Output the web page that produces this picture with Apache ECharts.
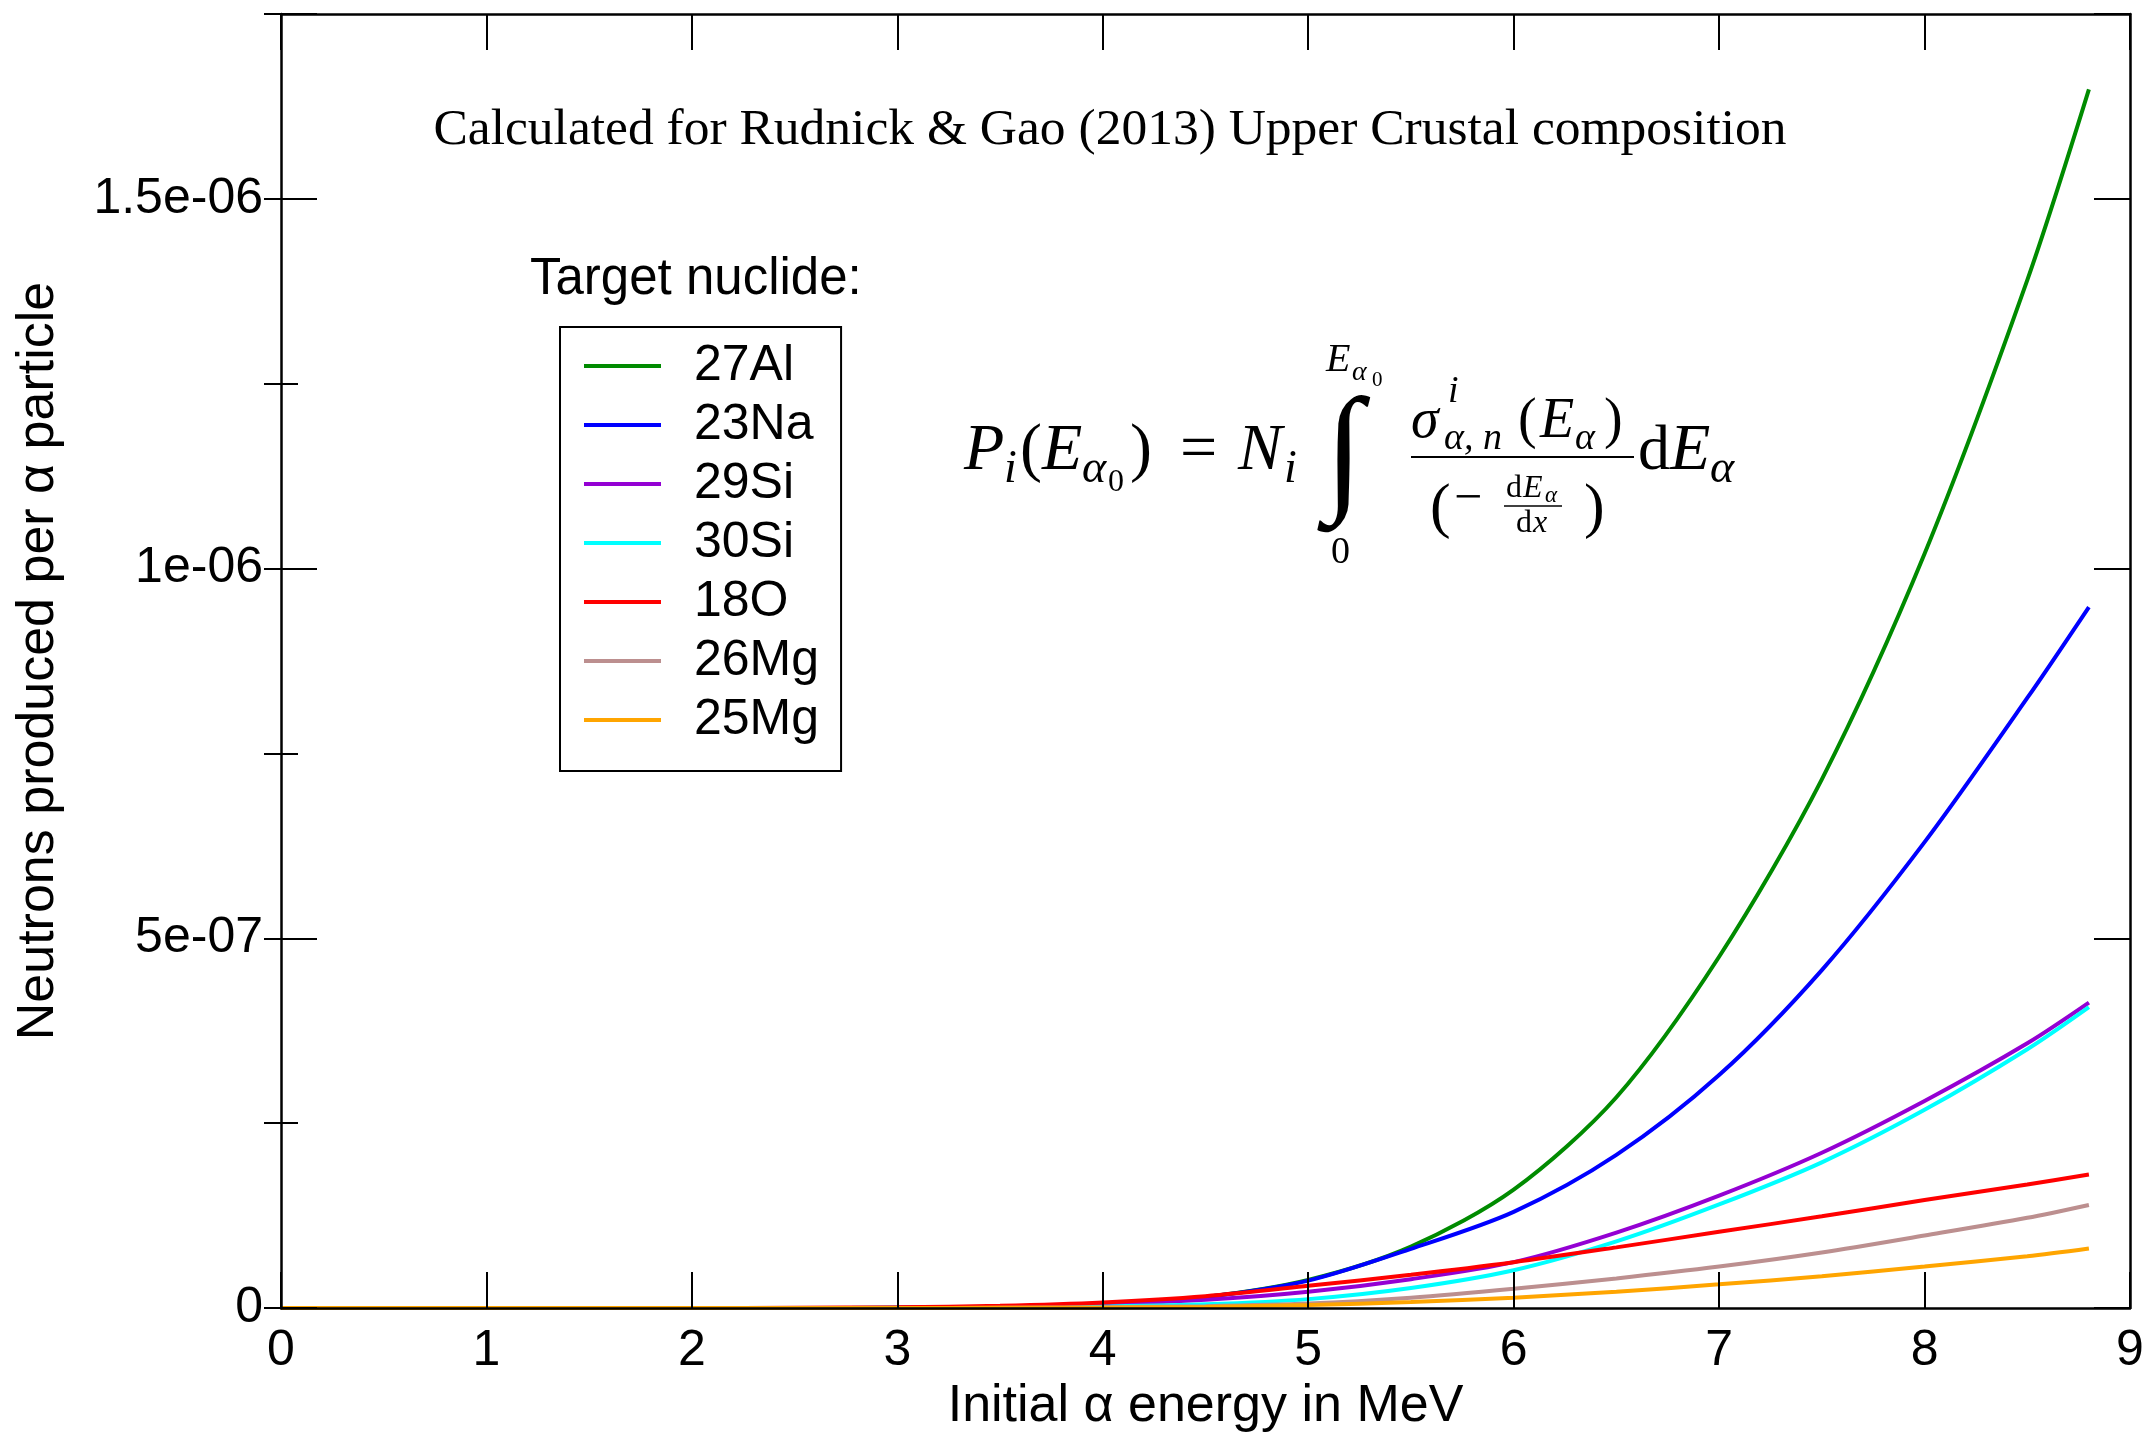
<!DOCTYPE html>
<html>
<head>
<meta charset="utf-8">
<script src="https://cdn.jsdelivr.net/npm/echarts@6/dist/echarts.min.js"></script>
<style>
  html, body { margin: 0; padding: 0; background: #fff; }
  #chart { width: 2148px; height: 1433px; }
</style>
</head>
<body>
<div id="chart"></div>
<script>
// initial alpha energy (MeV)
const energy = [0, 0.5, 1, 1.5, 2, 2.5, 3, 3.5, 4, 4.5, 5, 5.5, 6, 6.5, 7, 7.5, 8, 8.5, 8.8];

// neutrons produced per alpha particle
const al27 = [0, 0, 0, 0, 0, 0, 0.5e-9, 1.5e-9, 5e-9, 1.5e-8, 3.8e-8, 8.3e-8, 1.6e-7, 2.85e-7, 4.75e-7, 7.15e-7, 1.02e-6, 1.39e-6, 1.648e-6];
const na23 = [0, 0, 0, 0, 0, 0, 0.5e-9, 1.5e-9, 5e-9, 1.5e-8, 3.7e-8, 8.0e-8, 1.3e-7, 2.07e-7, 3.15e-7, 4.57e-7, 6.3e-7, 8.25e-7, 9.48e-7];
const si29 = [0, 0, 0, 0, 0, 0, 0.3e-9, 1.5e-9, 5e-9, 1.1e-8, 2.2e-8, 3.9e-8, 6.2e-8, 1.02e-7, 1.52e-7, 2.1e-7, 2.8e-7, 3.58e-7, 4.13e-7];
const si30 = [0, 0, 0, 0, 0, 0, 0, 0.5e-9, 2e-9, 5e-9, 1.2e-8, 2.7e-8, 5.1e-8, 9.0e-8, 1.4e-7, 1.97e-7, 2.68e-7, 3.5e-7, 4.07e-7];
const o18 = [0, 0, 0, 0, 0, 0.3e-9, 1e-9, 3e-9, 7.5e-9, 1.6e-8, 3.0e-8, 4.5e-8, 6.2e-8, 8.2e-8, 1.03e-7, 1.24e-7, 1.46e-7, 1.67e-7, 1.806e-7];
const mg26 = [0, 0, 0, 0, 0, 0, 0, 0.3e-9, 1e-9, 2.5e-9, 6e-9, 1.4e-8, 2.6e-8, 4.0e-8, 5.6e-8, 7.5e-8, 9.8e-8, 1.22e-7, 1.394e-7];
const mg25 = [0, 0, 0, 0, 0, 0, 0, 0.2e-9, 0.5e-9, 1.5e-9, 4e-9, 8e-9, 1.4e-8, 2.2e-8, 3.2e-8, 4.3e-8, 5.6e-8, 7.0e-8, 8.06e-8];

const nuclides = ['27Al', '23Na', '29Si', '30Si', '18O', '26Mg', '25Mg'];
const values = [al27, na23, si29, si30, o18, mg26, mg25];
const colors = ['#008b00', '#0000ff', '#9400d3', '#00ffff', '#ff0000', '#bc8f8f', '#ffa500'];

const yTickValues = [0, 5e-7, 1e-6, 1.5e-6];
const yTickLabels = ['0', '5e-07', '1e-06', '1.5e-06'];

const sans = 'Liberation Sans, Arial, Helvetica, sans-serif';
const serif = 'Liberation Serif, Times New Roman, serif';

const chart = echarts.init(document.getElementById('chart'));

const frame = { show: true, onZero: false, lineStyle: { color: '#000', width: 2.5 } };
const majorTick = { show: true, inside: true, length: 36, lineStyle: { color: '#000', width: 2 } };
const minorTick = { show: true, inside: true, length: 17, lineStyle: { color: '#000', width: 2 } };

// one piece of the formula: text, left x, baseline y, size, italic
function m(text, x, base, size, italic) {
  return {
    type: 'text', z: 50,
    x: x, y: base - 0.33 * size,
    style: {
      text: text, fill: '#000',
      fontSize: size, fontFamily: serif,
      fontStyle: italic ? 'italic' : 'normal',
      verticalAlign: 'middle', textVerticalAlign: 'middle'
    }
  };
}
function bar(x1, x2, y, w) {
  return { type: 'line', z: 50, shape: { x1: x1, y1: y, x2: x2, y2: y }, style: { stroke: '#000', lineWidth: w } };
}

const formula = [
  m('P', 964, 473, 66, true),
  m('i', 1004, 485, 46, true),
  m('(', 1020, 473, 66, false),
  m('E', 1042, 473, 66, true),
  m('α', 1082, 485, 46, true),
  m('0', 1108, 493, 32, false),
  m(')', 1130, 473, 66, false),
  m('=', 1180, 473, 66, false),
  m('N', 1238, 473, 66, true),
  m('i', 1284, 485, 46, true),
  {
    type: 'text', z: 50, x: 1344, y: 458,
    style: { text: '∫', fill: '#000', fontSize: 140, fontFamily: serif, fontStyle: 'italic',
      align: 'center', textAlign: 'center', verticalAlign: 'middle', textVerticalAlign: 'middle' }
  },
  m('E', 1326, 374, 40, true),
  m('α', 1352, 382, 28, true),
  m('0', 1372, 387, 21, false),
  m('0', 1331, 566, 38, false),
  // numerator
  m('σ', 1411, 441, 56, true),
  m('i', 1448, 405, 38, true),
  m('α, n', 1444, 452, 38, true),
  m('(', 1518, 441, 56, false),
  m('E', 1540, 441, 56, true),
  m('α', 1575, 452, 38, true),
  m(')', 1604, 441, 56, false),
  bar(1411, 1634, 457, 2.2),
  // denominator
  m('(', 1430, 530, 62, false),
  m('−', 1454, 516, 50, false),
  m('d', 1506, 499, 32, false),
  m('E', 1523, 499, 32, true),
  m('α', 1545, 504, 23, true),
  bar(1504, 1562, 506, 1.6),
  m('d', 1516, 534, 32, false),
  m('x', 1533, 534, 32, true),
  m(')', 1584, 530, 62, false),
  m('d', 1638, 473, 64, false),
  m('E', 1670, 473, 66, true),
  m('α', 1710, 485, 46, true)
];

const series = nuclides.map(function (name, i) {
  return {
    name: name,
    type: 'line',
    xAxisIndex: 0,
    yAxisIndex: 0,
    data: energy.map(function (e, k) { return [e, values[i][k]]; }),
    symbol: 'none',
    showSymbol: false,
    smooth: 0.3,
    lineStyle: { color: colors[i], width: 4 },
    itemStyle: { color: colors[i] },
    z: 2
  };
});

const option = {
  animation: false,
  backgroundColor: '#fff',
  grid: { left: 281, top: 14, width: 1849, height: 1294, outerBoundsMode: 'none', containLabel: false },
  legend: {
    data: nuclides,
    orient: 'vertical',
    left: 560, top: 327,
    icon: 'rect',
    itemWidth: 77, itemHeight: 4, itemGap: 9,
    padding: [14, 22, 26, 24],
    borderColor: '#000', borderWidth: 2,
    selectedMode: false,
    textStyle: { fontSize: 50, fontFamily: sans, color: '#000', lineHeight: 50, padding: [0, 0, 0, 28] }
  },
  xAxis: [
    {
      type: 'value', min: 0, max: 9, interval: 1, position: 'bottom',
      axisLine: frame, axisTick: majorTick, splitLine: { show: false },
      axisLabel: { fontSize: 50, fontFamily: sans, color: '#000', margin: 18 },
      name: 'Initial α energy in MeV', nameLocation: 'middle', nameGap: 66,
      nameTextStyle: { fontSize: 52, fontFamily: sans, color: '#000' },
      z: 3
    },
    {
      type: 'value', min: 0, max: 9, interval: 1, position: 'top',
      axisLine: frame, axisTick: majorTick, splitLine: { show: false },
      axisLabel: { show: false }
    }
  ],
  yAxis: [
    {
      type: 'value', min: 0, max: 1.75e-6, interval: 5e-7, position: 'left',
      axisLine: frame, axisTick: majorTick, splitLine: { show: false },
      axisLabel: {
        fontSize: 50, fontFamily: sans, color: '#000', margin: 18,
        formatter: function (v) {
          for (let i = 0; i < yTickValues.length; i++) {
            if (Math.abs(v - yTickValues[i]) < 1e-12) return yTickLabels[i];
          }
          return '';
        }
      },
      name: 'Neutrons produced per α particle', nameLocation: 'middle', nameGap: 216,
      nameTextStyle: { fontSize: 52, fontFamily: sans, color: '#000' },
      z: 3
    },
    {
      type: 'value', min: 0, max: 1.75e-6, interval: 2.5e-7, position: 'left',
      axisLine: { show: false }, axisTick: minorTick, splitLine: { show: false },
      axisLabel: { show: false }
    },
    {
      type: 'value', min: 0, max: 1.75e-6, interval: 5e-7, position: 'right',
      axisLine: frame, axisTick: majorTick, splitLine: { show: false },
      axisLabel: { show: false }
    },
    {
      type: 'value', min: 0, max: 1.75e-6, interval: 2.5e-7, position: 'right',
      axisLine: { show: false }, axisTick: minorTick, splitLine: { show: false },
      axisLabel: { show: false }
    }
  ],
  graphic: [
    {
      type: 'text', x: 1110, y: 130, z: 50,
      style: { text: 'Calculated for Rudnick & Gao (2013) Upper Crustal composition', fill: '#000',
        fontSize: 51.5, fontFamily: serif,
        align: 'center', textAlign: 'center', verticalAlign: 'middle', textVerticalAlign: 'middle' }
    },
    {
      type: 'text', x: 530, y: 280, z: 50,
      style: { text: 'Target nuclide:', fill: '#000', fontSize: 51, fontFamily: sans,
        verticalAlign: 'middle', textVerticalAlign: 'middle' }
    }
  ].concat(formula),
  series: series
};

chart.setOption(option);
</script>
</body>
</html>
